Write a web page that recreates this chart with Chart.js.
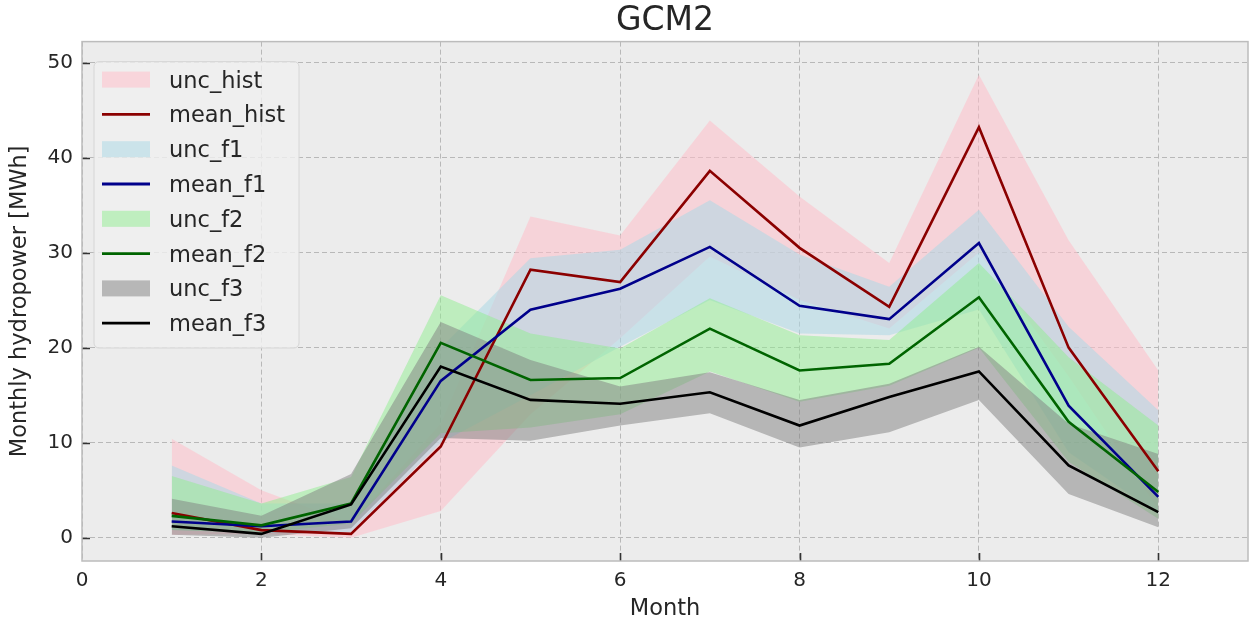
<!DOCTYPE html>
<html lang="en">
<head>
<meta charset="UTF-8">
<title>GCM2</title>
<script src="https://cdn.jsdelivr.net/npm/chart.js"></script>
<style>
  html, body { margin: 0; padding: 0; background: #fff; }
  canvas { display: block; }
</style>
</head>
<body>
<canvas id="hydroChart" width="1253" height="625"></canvas>
<script>
const months = [1, 2, 3, 4, 5, 6, 7, 8, 9, 10, 11, 12];
const xTicks = [0, 2, 4, 6, 8, 10, 12];
const yTicks = [0, 10, 20, 30, 40, 50];

// uncertainty bands (min / max over ensemble) and ensemble means, MWh
const histLow  = [0.3, 0.4, 0.0, 2.8, 13.0, 21.0, 29.6, 25.0, 22.0, 30.0, 17.0, 3.0];
const histHigh = [10.4, 5.0, 1.5, 12.0, 33.8, 31.8, 43.9, 35.9, 28.9, 48.7, 31.3, 17.6];
const histMean = [2.6, 0.8, 0.4, 9.6, 28.2, 26.9, 38.6, 30.5, 24.3, 43.2, 20.0, 7.0];

const f1Low  = [0.8, 0.5, 0.6, 10.0, 15.0, 20.1, 25.0, 21.5, 21.3, 24.0, 9.0, 2.5];
const f1High = [7.6, 3.6, 3.6, 20.0, 29.4, 30.3, 35.5, 29.8, 26.4, 34.5, 22.2, 13.4];
const f1Mean = [1.7, 1.2, 1.7, 16.5, 24.0, 26.2, 30.6, 24.4, 23.0, 31.0, 13.9, 4.3];

const f2Low  = [0.8, 0.5, 1.5, 11.0, 11.6, 13.0, 17.5, 14.3, 16.0, 20.0, 8.0, 2.0];
const f2High = [6.5, 3.6, 6.4, 25.5, 21.5, 19.9, 25.2, 21.3, 20.8, 28.9, 19.0, 11.8];
const f2Mean = [2.3, 1.3, 3.6, 20.5, 16.6, 16.8, 22.0, 17.6, 18.3, 25.3, 12.2, 4.8];

const f3Low  = [0.3, 0.0, 1.0, 10.5, 10.2, 11.8, 13.1, 9.5, 11.1, 14.5, 4.6, 1.1];
const f3High = [4.1, 2.3, 6.7, 22.7, 18.7, 15.9, 17.4, 14.5, 16.2, 20.1, 12.0, 8.8];
const f3Mean = [1.2, 0.4, 3.5, 18.0, 14.5, 14.1, 15.3, 11.8, 14.8, 17.5, 7.6, 2.7];

const FONT = "'DejaVu Sans', sans-serif";
const TEXT = '#262626';

function pts(values) {
    return months.map((m, i) => ({ x: m, y: values[i] }));
}

// lower edge (invisible) + upper edge filled down to it
function band(name, low, high, color, order) {
    return [
        { label: name + '_low', data: pts(low), borderColor: 'transparent', borderWidth: 0,
          pointRadius: 0, fill: false, order: order, legendHidden: true },
        { label: name, data: pts(high), borderColor: 'transparent', borderWidth: 0,
          pointRadius: 0, fill: '-1', backgroundColor: color, order: order, kind: 'patch' }
    ];
}

function meanLine(name, values, color, order) {
    return { label: name, data: pts(values), borderColor: color, borderWidth: 2.6,
             pointRadius: 0, fill: false, tension: 0, order: order, kind: 'line' };
}

const datasets = [
    ...band('unc_hist', histLow, histHigh, 'rgba(255,192,203,0.55)', 14),
    meanLine('mean_hist', histMean, '#8b0000', 4),
    ...band('unc_f1', f1Low, f1High, 'rgba(173,216,230,0.55)', 13),
    meanLine('mean_f1', f1Mean, '#00008b', 3),
    ...band('unc_f2', f2Low, f2High, 'rgba(144,238,144,0.5)', 12),
    meanLine('mean_f2', f2Mean, '#006400', 2),
    ...band('unc_f3', f3Low, f3High, 'rgba(128,128,128,0.5)', 11),
    meanLine('mean_f3', f3Mean, '#000000', 1)
];

// axes face, frame and inward tick marks
const axesDecor = {
    id: 'axesDecor',
    beforeDraw(chart) {
        const { ctx, chartArea: a } = chart;
        ctx.save();
        ctx.fillStyle = '#ececec';
        ctx.fillRect(a.left, a.top, a.right - a.left, a.bottom - a.top);
        ctx.restore();
    },
    afterDraw(chart) {
        const { ctx, chartArea: a, scales } = chart;
        ctx.save();
        ctx.strokeStyle = '#333';
        ctx.lineWidth = 1.6;
        ctx.beginPath();
        xTicks.forEach(v => {
            const x = Math.round(scales.x.getPixelForValue(v)) + 0.5;
            if (v === 0) return;
            ctx.moveTo(x, a.bottom);
            ctx.lineTo(x, a.bottom - 8);
        });
        yTicks.forEach(v => {
            const y = Math.round(scales.y.getPixelForValue(v)) + 0.5;
            ctx.moveTo(a.left, y);
            ctx.lineTo(a.left + 8, y);
        });
        ctx.stroke();
        ctx.strokeStyle = '#bcbcbc';
        ctx.lineWidth = 1.5;
        ctx.strokeRect(a.left, a.top, a.right - a.left, a.bottom - a.top);
        ctx.restore();
    }
};

// legend box in the upper-left corner of the axes
const legendBox = {
    id: 'legendBox',
    afterDatasetsDraw(chart) {
        const { ctx, chartArea: a } = chart;
        const items = chart.data.datasets.filter(d => !d.legendHidden);
        const x0 = a.left + 12, y0 = a.top + 20;
        const w = 205, rowH = 34.8, h = rowH * items.length + 8;
        ctx.save();
        ctx.beginPath();
        ctx.roundRect(x0, y0, w, h, 5);
        ctx.fillStyle = 'rgba(240,240,240,0.8)';
        ctx.fill();
        ctx.strokeStyle = '#d6d6d6';
        ctx.lineWidth = 1;
        ctx.stroke();
        ctx.font = '22.5px ' + FONT;
        ctx.textBaseline = 'alphabetic';
        items.forEach((d, i) => {
            const cy = y0 + 18 + i * rowH;
            if (d.kind === 'patch') {
                ctx.fillStyle = d.backgroundColor;
                ctx.fillRect(x0 + 8, cy - 8, 48, 16);
            } else {
                ctx.strokeStyle = d.borderColor;
                ctx.lineWidth = 2.8;
                ctx.beginPath();
                ctx.moveTo(x0 + 8, cy);
                ctx.lineTo(x0 + 56, cy);
                ctx.stroke();
            }
            ctx.fillStyle = TEXT;
            ctx.fillText(d.label, x0 + 75, cy + 8);
        });
        ctx.restore();
    }
};

new Chart(document.getElementById('hydroChart'), {
    type: 'line',
    data: { datasets: datasets },
    plugins: [axesDecor, legendBox],
    options: {
        responsive: false,
        devicePixelRatio: 1,
        animation: false,
        layout: { padding: { left: 0, right: 5, top: 0, bottom: 0 } },
        plugins: {
            legend: { display: false },
            tooltip: { enabled: false },
            filler: { drawTime: 'beforeDatasetsDraw' },
            title: {
                display: true,
                fullSize: false,
                text: 'GCM2',
                color: TEXT,
                font: { family: FONT, size: 33, weight: 'normal' },
                padding: { top: 2, bottom: 0 }
            }
        },
        scales: {
            x: {
                type: 'linear',
                min: 0,
                max: 13,
                afterBuildTicks: s => { s.ticks = xTicks.map(v => ({ value: v })); },
                afterFit: s => { s.height = 64; },
                ticks: { color: TEXT, font: { family: FONT, size: 20 }, padding: 8, maxRotation: 0 },
                grid: { color: '#b8b8b8', lineWidth: 1, drawTicks: false },
                border: { display: false, dash: [5, 3] },
                title: { display: true, text: 'Month', color: TEXT,
                         font: { family: FONT, size: 22.5 }, padding: { top: 0, bottom: 2 } }
            },
            y: {
                min: -2.45,
                max: 52.2,
                afterBuildTicks: s => { s.ticks = yTicks.map(v => ({ value: v })); },
                afterFit: s => { s.width = 82; },
                ticks: { color: TEXT, font: { family: FONT, size: 20 }, padding: 9 },
                grid: { color: '#b8b8b8', lineWidth: 1, drawTicks: false },
                border: { display: false, dash: [5, 3] },
                title: { display: true, text: 'Monthly hydropower [MWh]', color: TEXT,
                         font: { family: FONT, size: 22.5 }, padding: { top: 7, bottom: 0 } }
            }
        }
    }
});
</script>
</body>
</html>
